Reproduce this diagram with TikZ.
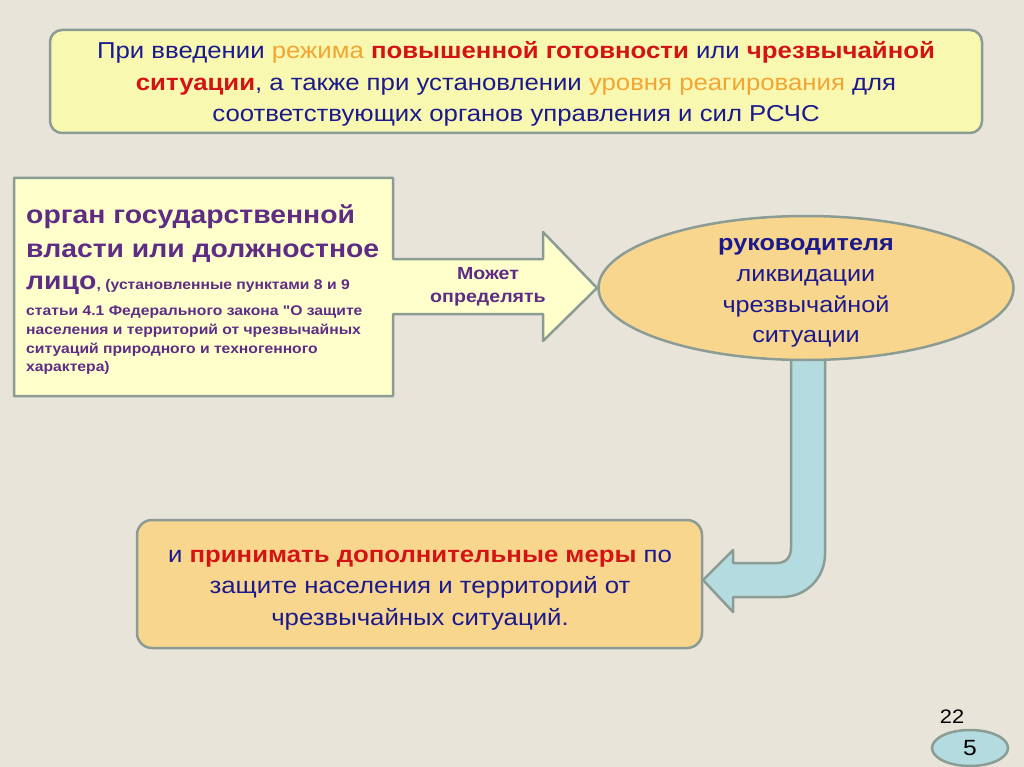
\documentclass[tikz,border=0pt]{standalone}
\usepackage{fontspec}
\setmainfont{Liberation Sans}[FakeStretch=1.12]
\newfontfamily\qfont{Liberation Sans}[FakeStretch=1.12, Ligatures=TeXOff]
\usetikzlibrary{shapes.geometric}
\definecolor{bg}{HTML}{E9E4DA}
\definecolor{edge}{HTML}{8A9C94}
\definecolor{topfill}{HTML}{F9F8B0}
\definecolor{leftfill}{HTML}{FFFFCC}
\definecolor{orangefill}{HTML}{F9D68E}
\definecolor{bluefill}{HTML}{B4DCE0}
\definecolor{dblue}{HTML}{1A1A8E}
\definecolor{orng}{HTML}{F2A533}
\definecolor{rd}{HTML}{D41414}
\definecolor{purp}{HTML}{5E2C84}
\tikzset{
  boxline/.style={draw=edge, line width=2.5pt, line join=round},
  txt/.style={inner sep=0pt, align=center},
  bigline/.style={inner sep=0pt, anchor=base west, text=purp, font=\bfseries\fontsize{25.3}{30}\selectfont},
  smallline/.style={inner sep=0pt, anchor=base west, text=purp, font=\bfseries\fontsize{14}{18}\selectfont},
}
\begin{document}
\begin{tikzpicture}[x=1pt,y=-1pt]
\useasboundingbox (0,0) rectangle (1024,767);
\fill[bg] (0,0) rectangle (1024,767);

% top box
\draw[boxline, fill=topfill, rounded corners=12pt] (50,30) rectangle (982,133);
\node[txt, text=dblue, font=\fontsize{23}{31.5}\selectfont] (top) at (516,84)
 {При введении \textcolor{orng}{режима} \textcolor{rd}{\bfseries повышенной готовности} или \textcolor{rd}{\bfseries чрезвычайной}\\
  \textcolor{rd}{\bfseries ситуации}, а также при установлении \textcolor{orng}{уровня реагирования} для\\
  соответствующих органов управления и сил РСЧС};

% left box with block arrow
\draw[boxline, fill=leftfill] (14,178) -- (393,178) -- (393,259) -- (543,259) -- (543,232)
  -- (597,288) -- (543,341) -- (543,314) -- (393,314) -- (393,396) -- (14,396) -- cycle;
\node[bigline] (organ1) at (26,224) {орган государственной};
\node[bigline] (organ2) at (26,257) {власти или должностное};
\node[bigline] (organ3) at (26,289) {лицо};
\node[smallline, anchor=base west] (law1) at (organ3.base east) {, (установленные пунктами 8 и 9};
\node[smallline] (law2) at (26,315) {статьи 4.1 Федерального закона {\qfont\bfseries"}О защите};
\node[smallline] (law3) at (26,334) {населения и территорий от чрезвычайных};
\node[smallline] (law4) at (26,353) {ситуаций природного и техногенного};
\node[smallline] (law5) at (26,371) {характера)};
\node[txt, text=purp, font=\bfseries\fontsize{17.5}{23}\selectfont] (may) at (488,287)
 {Может\\определять};

% bent blue arrow
\draw[boxline, fill=bluefill] (791,350) -- (791,548) .. controls (791,557) and (786,563) .. (777,563)
  -- (733,563) -- (733,550) -- (703,580) -- (733,612) -- (733,597) -- (782,597)
  .. controls (806,597) and (825,578) .. (825,554) -- (825,350) -- cycle;

% ellipse
\node[ellipse, boxline, fill=orangefill, minimum width=415pt, minimum height=144pt, inner sep=0pt] (head) at (806,288) {};
\node[txt, text=dblue, font=\fontsize{22.5}{30.7}\selectfont] (headtxt) at (806,293)
 {\textbf{руководителя}\\ликвидации\\чрезвычайной\\ситуации};

% bottom box
\draw[boxline, fill=orangefill, rounded corners=15pt] (137,520) rectangle (702,648);
\node[txt, text=dblue, font=\fontsize{23}{31.5}\selectfont] (bottom) at (420,590)
 {и \textcolor{rd}{\bfseries принимать дополнительные меры} по\\
  защите населения и территорий от\\
  чрезвычайных ситуаций.};

% page numbers
\node[txt, font=\fontsize{19.5}{20}\selectfont] (p22) at (952,717) {22};
\node[ellipse, draw=edge, line width=2.5pt, fill=bluefill, minimum width=76pt, minimum height=36pt, inner sep=0pt, font=\fontsize{22}{24}\selectfont] (p5) at (970,748) {5};
\end{tikzpicture}
\end{document}
